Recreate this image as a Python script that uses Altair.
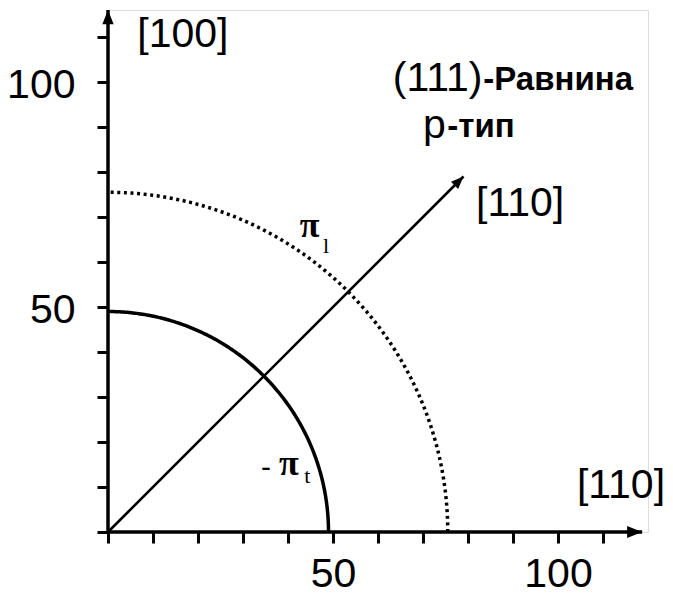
import altair as alt
import pandas as pd

# ---- data -------------------------------------------------------------
# axis extents (arrow tips) and tick marks
x_tip = 118.7
y_tip = 116
tick_values = [0, 10, 20, 30, 40, 50, 60, 70, 80, 90, 100, 110]
labelled_ticks = [50, 100]

# quarter-circle contours: name, radius
contour_names = ["-pi_t", "pi_l"]
contour_radius = [49, 75.5]

# [110] direction arrow end point
diag_end = [79, 79]

# ---- scales / axes ----------------------------------------------------
X_DOMAIN = [0, 120]
Y_DOMAIN = [0, 116]
W, H = 540, 522

xs = alt.Scale(domain=X_DOMAIN, nice=False, zero=False)
ys = alt.Scale(domain=Y_DOMAIN, nice=False, zero=False)

label_expr = "indexof(%s, datum.value) >= 0 ? datum.label : ''" % str(labelled_ticks)
common_axis = dict(
    values=tick_values, labelExpr=label_expr, domain=False, grid=False,
    title=None, labelFont="Liberation Sans", labelFontSize=41,
    labelColor="black", tickColor="black", tickWidth=3, tickSize=11,
    labelOverlap=False, labelFlush=False,
)
x_axis = alt.Axis(labelPadding=11, **common_axis)
y_axis = alt.Axis(labelPadding=22, labelOffset=3, **common_axis)


def X(field):
    return alt.X(field, type="quantitative", scale=xs, axis=x_axis)


def Y(field):
    return alt.Y(field, type="quantitative", scale=ys, axis=y_axis)


# ---- axis lines with arrow heads ---------------------------------------
axis_lines = pd.DataFrame({
    "x0": [0, 0], "x1": [x_tip, 0], "y0": [0, 0], "y1": [0, y_tip]})
axes = alt.Chart(axis_lines).mark_rule(color="black", strokeWidth=3.5).encode(
    x=X("x0"), x2="x1", y=Y("y0"), y2="y1")

arrow_shape = "M0,0 L-2,-0.8 L-2,0.8 Z"
heads = pd.DataFrame({
    "x": [x_tip, 0, diag_end[0]],
    "y": [0, y_tip, diag_end[1]],
    "rot": [0, 270, 315],
    "sz": [225, 200, 160],
})
arrow_heads = alt.Chart(heads).mark_point(
    shape=arrow_shape, filled=True, color="black", opacity=1, strokeWidth=0
).encode(
    x=X("x"), y=Y("y"),
    angle=alt.Angle("rot:Q", scale=None),
    size=alt.Size("sz:Q", scale=None, legend=None),
)

# diagonal [110] direction
diag = alt.Chart(pd.DataFrame({"x0": [0], "y0": [0], "x1": [diag_end[0]], "y1": [diag_end[1]]})
                 ).mark_rule(color="black", strokeWidth=2.6).encode(
    x=X("x0"), x2="x1", y=Y("y0"), y2="y1")


# ---- quarter circles --------------------------------------------------
def quarter(radius, **mark_kw):
    return alt.Chart(alt.sequence(0, 90.01, 0.5, as_="deg")).transform_calculate(
        cx=f"{radius} * cos(datum.deg * PI / 180)",
        cy=f"{radius} * sin(datum.deg * PI / 180)",
    ).mark_line(color="black", **mark_kw).encode(
        x=X("cx"), y=Y("cy"), order="deg:Q")


solid_arc = quarter(contour_radius[0], strokeWidth=3.5)
dotted_arc = quarter(contour_radius[1], strokeWidth=3.5, strokeDash=[3, 3.6])


# ---- text labels ------------------------------------------------------
def label(text, x, y, size, font="Liberation Sans", weight="normal", align="left"):
    return alt.Chart(pd.DataFrame({"x": [x], "y": [y], "t": [text]})).mark_text(
        align=align, baseline="alphabetic", font=font, fontSize=size,
        fontWeight=weight, color="black",
    ).encode(x=X("x"), y=Y("y"), text="t:N")


texts = [
    label("[100]", 6.5, 107.8, 41),
    label("(111)", 63.3, 98.0, 41),
    label("-Равнина", 83.4, 98.2, 33, weight="bold"),
    label("p", 70.0, 87.6, 41),
    label("-тип", 75.4, 87.8, 33, weight="bold"),
    label("[110]", 81.8, 70.2, 41),
    label("[110]", 104.2, 7.6, 41),
    label("π", 42.6, 65.6, 36, font="Liberation Serif", weight="bold"),
    label("l", 47.8, 62.0, 22, font="Liberation Serif"),
    label("-", 34.0, 12.2, 30),
    label("π", 38.0, 12.6, 36, font="Liberation Serif", weight="bold"),
    label("t", 43.6, 11.0, 22, font="Liberation Serif"),
]

chart = alt.layer(axes, diag, solid_arc, dotted_arc, arrow_heads, *texts).properties(
    width=W, height=H,
    padding={"left": 108, "top": 10, "right": 25, "bottom": 65},
    autosize=alt.AutoSizeParams(type="none"),
).configure_view(stroke=None).configure(background="white")

chart.save("out.html", embed_options={"renderer": "svg", "actions": False})
